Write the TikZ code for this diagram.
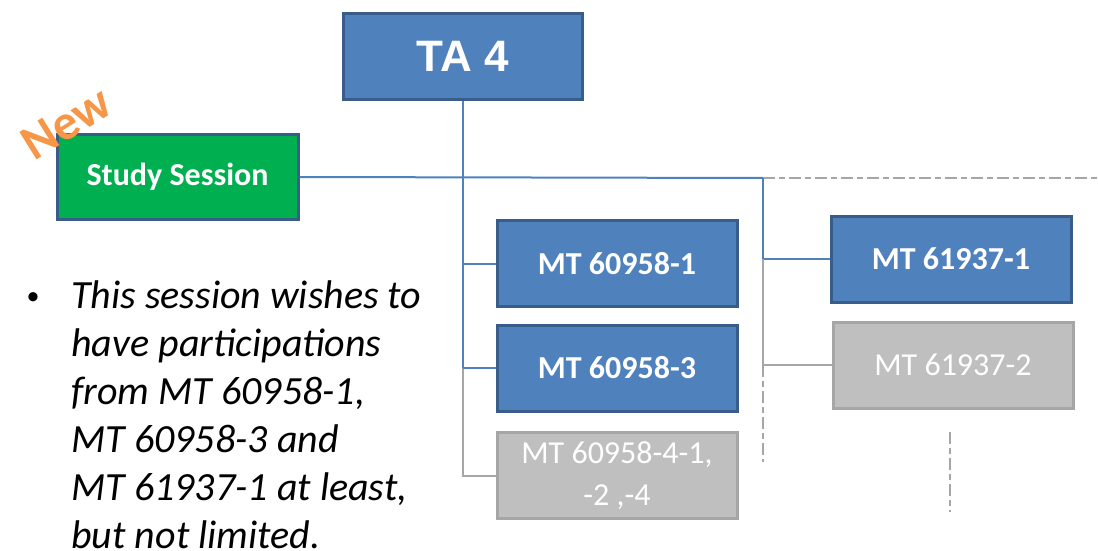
\documentclass[tikz,border=0pt]{standalone}
\usepackage{fontspec}
\setmainfont{Carlito}
\newfontfamily\arialfont{Liberation Sans}
\definecolor{boxblue}{HTML}{4F81BD}
\definecolor{edgeblue}{HTML}{385D8A}
\definecolor{boxgreen}{HTML}{00B050}
\definecolor{boxgray}{HTML}{BFBFBF}
\definecolor{edgegray}{HTML}{A6A6A6}
\definecolor{newor}{HTML}{F79646}
\tikzset{
  bluebox/.style={draw=edgeblue, line width=1.5pt, fill=boxblue, text=white, font=\bfseries\fontsize{16}{19}\selectfont, minimum width=120pt, minimum height=43pt, inner sep=0pt},
  graybox/.style={draw=edgegray, line width=1.5pt, fill=boxgray, text=white, font=\fontsize{16}{21}\selectfont, align=center, minimum width=120pt, minimum height=43pt, inner sep=0pt},
  bluelink/.style={draw=boxblue, line width=1pt},
  graylink/.style={draw=edgegray, line width=1pt},
  graydash/.style={draw=edgegray, line width=1pt, dash pattern=on 6pt off 2pt on 3pt off 2pt}
}
\begin{document}
\begin{tikzpicture}[x=0.5pt,y=-0.5pt]
\useasboundingbox (0,0) rectangle (1098,551);

% Boxes
  \node[bluebox, font=\arialfont\bfseries\fontsize{22}{26}\selectfont, minimum width=119.5pt] (ta) at (462.5,56.5) {TA 4};
  \node[bluebox, fill=boxgreen, minimum width=120.5pt, minimum height=42pt] (study) at (177.5,177) {Study Session};
  \node[bluebox] (m1) at (617,263.5) {MT 60958-1};
  \node[bluebox] (m3) at (617,368) {MT 60958-3};
  \node[graybox] (m4) at (617,475.5) {MT 60958-4-1,\\-2 ,-4};
  \node[bluebox] (n1) at (951,259) {MT 61937-1};
  \node[graybox] (n2) at (953,365) {MT 61937-2};

  \node[text=newor, font=\bfseries\fontsize{25}{25}\selectfont, rotate=32, inner sep=0pt] (new) at (66,123) {New};

% Junctions
  \coordinate (j2) at (763,178);
  \coordinate (hend) at (1098,178);
  \coordinate (vend) at (763,462);
  \coordinate (d1) at (950,432);
  \coordinate (d2) at (950,512);

% Connectors
  \draw[bluelink] (study.east) -- (j2);
  \draw[graydash] (j2) -- (hend);
  \draw[bluelink] (ta.south) -- (ta.south |- m3.west);
  \draw[graylink] (ta.south |- m3.west) -- (ta.south |- m4.west) -- (m4.west);
  \draw[bluelink] (ta.south |- m1.west) -- (m1.west);
  \draw[bluelink] (ta.south |- m3.west) -- (m3.west);
  \draw[bluelink] (j2) -- (j2 |- n1.west) -- (n1.west);
  \draw[graylink] (j2 |- n1.west) -- (j2 |- n2.west) -- (n2.west);
  \draw[graydash] (j2 |- n2.west) -- (vend);
  \draw[graydash] (d1) -- (d2);

% Text
  \node[anchor=base, font=\fontsize{13}{24}\selectfont, inner sep=0pt] (bullet) at (33,304) {\textbullet};
  \node[anchor=north west, align=left, font=\itshape\fontsize{20}{24}\selectfont, inner sep=0pt] (note) at (71,280)
    {This session wishes to\\have participations\\from MT 60958-1,\\MT 60958-3 and\\MT 61937-1 at least,\\but not limited.};

\end{tikzpicture}
\end{document}
